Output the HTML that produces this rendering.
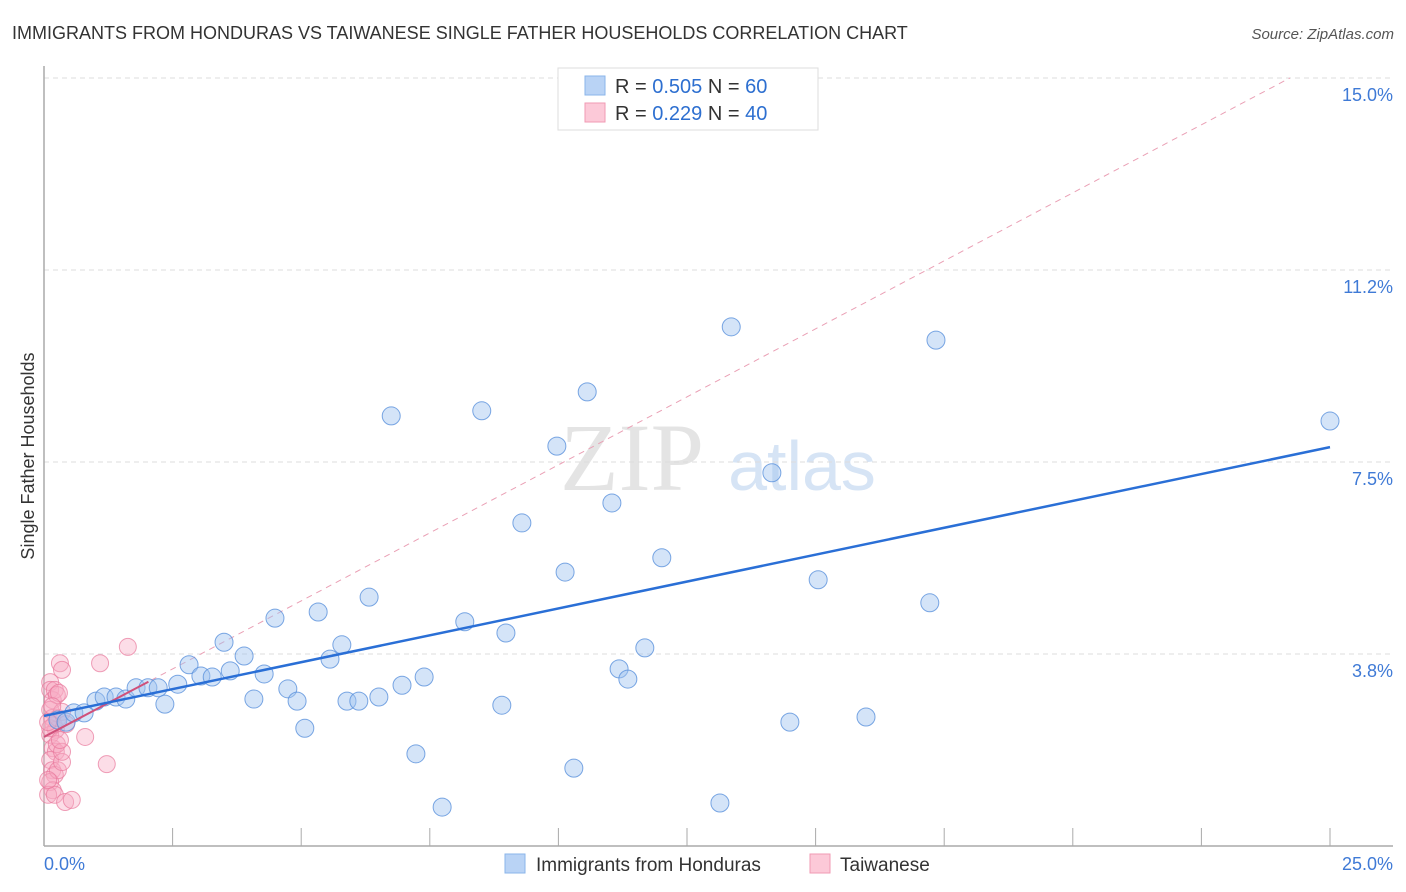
<!DOCTYPE html>
<html><head><meta charset="utf-8"><style>
body{margin:0;background:#fff;font-family:"Liberation Sans",sans-serif;}
svg{display:block}
</style></head><body>
<svg id="chart" width="1406" height="892" xmlns="http://www.w3.org/2000/svg">
<text x="12" y="39" font-size="18" fill="#333">IMMIGRANTS FROM HONDURAS VS TAIWANESE SINGLE FATHER HOUSEHOLDS CORRELATION CHART</text>
<text x="1394" y="39" font-size="15" fill="#555" font-style="italic" text-anchor="end">Source: ZipAtlas.com</text>
<text x="632" y="490" font-size="96" fill="#e4e4e4" text-anchor="middle" font-family="Liberation Serif,serif">ZIP</text>
<text x="802" y="490" font-size="70" fill="#d6e4f5" text-anchor="middle">atlas</text>
<g id="grid"></g><g id="axes"></g><g id="marks"></g>
<text transform="translate(34,456) rotate(-90)" font-size="18" fill="#333" text-anchor="middle">Single Father Households</text>
<g>
<rect x="558" y="68" width="260" height="62" fill="#fff" stroke="#ddd"/>
<rect x="585" y="76" width="20" height="19" fill="#b9d3f5" stroke="#8ab4ea"/>
<rect x="585" y="103" width="20" height="19" fill="#fcc9d8" stroke="#f09ab3"/>
<text x="615" y="93" font-size="20" fill="#333">R = <tspan fill="#2d6fd0">0.505</tspan>   N = <tspan fill="#2d6fd0">60</tspan></text>
<text x="615" y="120" font-size="20" fill="#333">R =  <tspan fill="#2d6fd0">0.229</tspan>   N = <tspan fill="#2d6fd0">40</tspan></text>
</g>
<g>
<rect x="505" y="854" width="20" height="19" fill="#b9d3f5" stroke="#8ab4ea"/>
<text x="536" y="871" font-size="19" fill="#333">Immigrants from Honduras</text>
<rect x="810" y="854" width="20" height="19" fill="#fcc9d8" stroke="#f09ab3"/>
<text x="840" y="871" font-size="19" fill="#333">Taiwanese</text>
</g>
</svg>
<script>
const yTicks=[3.75,7.5,11.25,15];
const yTickLabels=["3.8%","7.5%","11.2%","15.0%"];
const xTicks=[0,2.5,5,7.5,10,12.5,15,17.5,20,22.5,25];
const blueX=[0.27,0.43,0.58,0.78,1.01,1.17,1.40,1.59,1.79,2.02,2.22,2.35,2.60,2.82,3.05,3.27,3.50,3.62,3.89,4.08,4.28,4.49,4.74,4.92,5.07,5.33,5.56,5.79,5.89,6.12,6.32,6.51,6.75,6.96,7.23,7.39,7.74,8.18,8.51,8.90,8.98,9.29,9.97,10.13,10.30,10.56,11.04,11.18,11.35,11.68,12.01,13.14,13.36,14.15,14.50,15.05,15.98,17.22,17.34,25.0];
const blueY=[2.46,2.42,2.60,2.60,2.83,2.91,2.91,2.87,3.09,3.09,3.09,2.77,3.16,3.54,3.32,3.30,3.98,3.42,3.71,2.87,3.36,4.45,3.07,2.83,2.30,4.57,3.65,3.93,2.83,2.83,4.86,2.91,8.40,3.14,1.80,3.30,0.76,4.38,8.50,2.75,4.16,6.31,7.81,5.35,1.52,8.87,6.70,3.46,3.26,3.87,5.63,0.84,10.14,7.29,2.42,5.20,2.52,4.75,9.88,8.30];
const pinkX=[0.12,0.12,0.17,0.21,0.25,0.29,0.12,0.16,0.19,0.23,0.12,0.17,0.23,0.12,0.16,0.21,0.12,0.17,0.27,0.35,0.08,0.21,0.41,0.54,0.31,0.35,1.09,1.63,0.80,1.22,0.12,0.27,0.35,0.43,0.08,0.16,0.25,0.35,0.08,0.31];
const pinkY=[3.20,3.05,2.85,3.05,2.95,2.99,2.66,2.50,2.36,2.27,2.17,1.91,1.84,1.68,1.48,1.39,1.25,1.09,1.48,1.64,1.00,1.00,0.86,0.90,3.57,3.44,3.57,3.89,2.13,1.60,2.30,2.50,2.62,2.38,2.42,2.73,1.99,1.84,1.29,2.07];
const blueTrend=[2.54,7.79];
const pinkTrend=[2.13,15.0,24.22,2.03];
const X=v=>44+v*51.44, Y=v=>846-v*51.2;
const NS="http://www.w3.org/2000/svg";
function mk(tag,attrs,parent){const e=document.createElementNS(NS,tag);for(const k in attrs)e.setAttribute(k,attrs[k]);document.getElementById(parent).appendChild(e);return e;}
yTicks.forEach((t,i)=>{
 const l=mk('line',{x1:44,x2:1393,y1:Y(t),y2:Y(t),stroke:'#ddd','stroke-dasharray':'5,4'},'grid');
 
 
 const tx=mk('text',{x:1393,y:Y(t)+23,'font-size':18,fill:'#3f7ad6','text-anchor':'end'},'grid');
 tx.textContent=yTickLabels[i];
 
 
});
const ya=mk('line',{x1:44,x2:44,y1:66,y2:846,stroke:'#aaa','stroke-width':1.5},'axes');


const xa=mk('line',{x1:44,x2:1393,y1:846,y2:846,stroke:'#aaa','stroke-width':1.5},'axes');


xTicks.forEach(t=>{const l=mk('line',{x1:X(t),x2:X(t),y1:828,y2:846,stroke:'#aaa'},'axes');
 
 });
const x0=mk('text',{x:44,y:870,'font-size':18,fill:'#3f7ad6'},'axes');x0.textContent='0.0%';


const x1=mk('text',{x:1393,y:870,'font-size':18,fill:'#3f7ad6','text-anchor':'end'},'axes');x1.textContent='25.0%';


const pd=mk('line',{x1:X(0),y1:Y(pinkTrend[0]),x2:X(pinkTrend[2]),y2:Y(pinkTrend[1]),stroke:'#eaa0b5','stroke-dasharray':'6,5','stroke-width':1},'marks');


pinkX.forEach((v,i)=>{const c=mk('circle',{cx:X(v),cy:Y(pinkY[i]),r:8.5,fill:'rgba(248,170,195,0.4)',stroke:'rgba(232,120,155,0.7)'},'marks');
 
 });
blueX.forEach((v,i)=>{const c=mk('circle',{cx:X(v),cy:Y(blueY[i]),r:9,fill:'rgba(160,196,240,0.45)',stroke:'rgba(90,145,220,0.8)'},'marks');
 
 });
const ps=(pinkTrend[1]-pinkTrend[0])/pinkTrend[2];
const pl=mk('line',{x1:X(0),y1:Y(pinkTrend[0]),x2:X(pinkTrend[3]),y2:Y(pinkTrend[0]+ps*pinkTrend[3]),stroke:'#d0507a','stroke-width':2},'marks');


const bl=mk('line',{x1:X(0),y1:Y(blueTrend[0]),x2:X(25),y2:Y(blueTrend[1]),stroke:'#2a6fd6','stroke-width':2.5},'marks');


</script>
</body></html>
